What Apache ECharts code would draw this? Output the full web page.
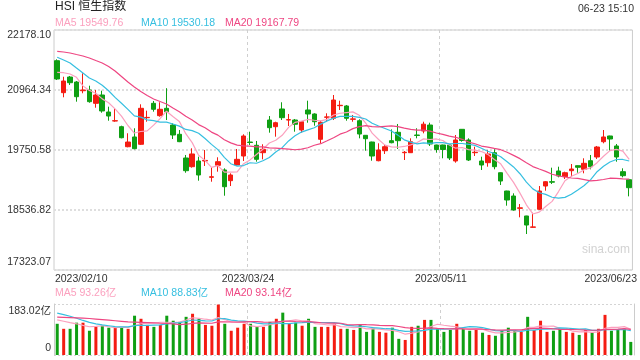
<!DOCTYPE html>
<html><head><meta charset="utf-8">
<script src="https://cdn.jsdelivr.net/npm/echarts@6/dist/echarts.min.js"></script>
<style>html,body{margin:0;padding:0;background:#fff}#c{width:640px;height:360px}</style>
</head><body><div id="c"></div>
<script>
const dates = ['2023/02/10','2023/02/13','2023/02/14','2023/02/15','2023/02/16','2023/02/17','2023/02/20','2023/02/21','2023/02/22','2023/02/23','2023/02/24','2023/02/27','2023/02/28',
'2023/03/01','2023/03/02','2023/03/03','2023/03/06','2023/03/07','2023/03/08','2023/03/09','2023/03/10','2023/03/13','2023/03/14','2023/03/15','2023/03/16','2023/03/17','2023/03/20','2023/03/21','2023/03/22','2023/03/23','2023/03/24','2023/03/27','2023/03/28','2023/03/29','2023/03/30','2023/03/31',
'2023/04/03','2023/04/04','2023/04/06','2023/04/11','2023/04/12','2023/04/13','2023/04/14','2023/04/17','2023/04/18','2023/04/19','2023/04/20','2023/04/21','2023/04/24','2023/04/25','2023/04/26','2023/04/27','2023/04/28',
'2023/05/02','2023/05/03','2023/05/04','2023/05/05','2023/05/08','2023/05/09','2023/05/10','2023/05/11','2023/05/12','2023/05/15','2023/05/16','2023/05/17','2023/05/18','2023/05/19','2023/05/22','2023/05/23','2023/05/24','2023/05/25','2023/05/29','2023/05/30','2023/05/31',
'2023/06/01','2023/06/02','2023/06/05','2023/06/06','2023/06/07','2023/06/08','2023/06/09','2023/06/12','2023/06/13','2023/06/14','2023/06/15','2023/06/16','2023/06/19','2023/06/20','2023/06/21','2023/06/23'];

const opens = [21557,20910,21227,21126,20950,20964,20695,20863,20519,20337,
20222,19817,20014,19866,20404,20695,20445,20594,20256,20068,
19589,19413,19528,19528,19198,19441,19346,19130,19447,19629,
19912,19846,19696,20357,20222,20580,20357,20357,20155,20560,
20479,19967,20412,20392,20647,20641,20372,20343,20048,19912,
19534,19736,19939,20109,19696,19696,20054,20135,20256,19852,
19852,19852,19528,20169,19953,19696,19528,19494,19696,19291,
18921,18820,18571,18416,18187,18551,19022,19109,19326,19211,
19332,19433,19360,19534,19609,19918,20034,19832,19312,19150];
const closes = [21187,21146,21112,20829,20965,20728,20863,20540,20438,20343,
19999,19912,19777,20594,20410,20574,20574,20525,20054,19919,
19332,19670,19245,19540,19210,19514,19008,19245,19562,20034,
19902,19562,19765,20202,20303,20404,20365,20271,20323,20479,
20323,20311,20420,20762,20655,20392,20380,20074,19979,19629,
19751,19817,19898,19939,19705,19918,20045,20273,19872,19761,
19761,19589,19953,19943,19548,19705,19447,19670,19413,19123,
18739,18537,18580,18233,18195,18921,19109,19100,19225,19291,
19366,19401,19481,19413,19811,20014,19973,19609,19231,18988];
const lows = [21167,20817,21066,20728,20898,20707,20606,20505,20343,20323,
19987,19805,19765,19852,20323,20526,20424,20357,19973,19910,
19291,19393,19130,19427,19109,19312,18826,19022,19433,19528,
19852,19514,19562,20101,20020,20357,20236,20121,20101,20303,
20242,19886,20323,20357,20560,20343,20323,19987,19736,19534,
19522,19670,19886,19771,19548,19690,19987,20088,19832,19696,
19583,19548,19494,19919,19528,19629,19346,19413,19360,19042,
18624,18523,18389,18051,18180,18537,18927,19063,19198,19164,
19211,19291,19279,19360,19569,19886,19736,19514,19198,18813];
const highs = [21585,21233,21248,21146,21302,21051,20964,20950,20627,20594,
20242,20089,20190,20675,20546,20742,20716,21001,20291,20155,
19650,19785,19615,19751,19401,19603,19380,19279,19771,20068,
20121,19933,19866,20438,20323,20716,20479,20378,20337,20748,
20493,20343,20493,20863,20748,20661,20459,20372,20054,19919,
19886,19852,20169,20277,19730,19987,20190,20323,20303,19858,
19858,19858,20054,20175,19987,19817,19615,19751,19765,19296,
18926,18874,18658,18420,18482,19022,19123,19393,19413,19312,
19467,19438,19583,19650,19832,20155,20040,19872,19380,19155];
const volumes = [112,94,94,116,116,87,101,105,98,98,
98,94,141,130,108,101,108,141,123,119,
137,148,130,108,105,181,112,87,98,112,
112,101,101,119,130,152,112,116,105,130,
101,101,101,112,94,94,90,108,83,98,
83,80,98,58,54,101,105,126,126,94,
83,90,112,94,87,90,80,72,69,87,
98,90,83,137,90,123,83,87,94,83,
80,72,90,80,94,144,87,90,94,47];

// MA values visible at the left edge (their windows start before the first shown day)
const ma5Head = [21322,21314,21288,21221];
const ma10Head = [21626,21571,21511,21409,21308,21207,21146,21060,20950];
const ma20Head = [21747,21733,21713,21682,21652,21612,21561,21511,21440,21349,21237,21126,21025,20934,20853,20782,20732,20681,20600];
const volMa5Head = [126,121,116,112];
const volMa10Head = [150,145,139,132,124,117,112,108,105];
const volMa20Head = [136,135,134,133,132,131,129,127,125,123,121,119,118,117,116,115,114,113,112];

const priceTicks = ['17323.07','18536.82','19750.58','20964.34','22178.10'];
const volTicks = ['0','183.02亿'];
const xTickIdx = [0,30,60,89];
const priceLegend = ['MA5 19549.76','MA10 19530.18','MA20 19167.79'];
const volLegend = ['MA5 93.26亿','MA10 88.83亿','MA20 93.14亿'];
const titleText = 'HSI 恒生指数';
const timeText = '06-23 15:10';
const watermark = 'sina.com';

const RED = '#f41c12', GREEN = '#0f9f13';
const C5 = '#fba0be', C10 = '#36bfe0', C20 = '#ee4682';
const FONT = '"Liberation Sans", Arial, "Noto Sans CJK SC", sans-serif';

function ma(arr, n, head) {
  return arr.map((v, i) => {
    if (i < n - 1) return head[i];
    let s = 0; for (let k = i - n + 1; k <= i; k++) s += arr[k];
    return +(s / n).toFixed(2);
  });
}

const yMin = +priceTicks[0], yMax = +priceTicks[priceTicks.length - 1];
const yInt = (yMax - yMin) / (priceTicks.length - 1);
const vMax = parseFloat(volTicks[1]);

const chart = echarts.init(document.getElementById('c'), null, {renderer: 'canvas'});
const splitX = {show: true, interval: (i) => i === xTickIdx[1] || i === xTickIdx[2], lineStyle: {color: '#cfcfcf', type: [3, 3], width: 1}};

chart.setOption({
  animation: false,
  backgroundColor: '#fff',
  textStyle: {fontFamily: FONT},
  grid: [
    {left: 54, right: 6, top: 30, height: 240, show: true, borderColor: '#cccccc', borderWidth: 1},
    {left: 54, right: 6, top: 304, height: 51, show: false}
  ],
  xAxis: [
    {type: 'category', gridIndex: 0, data: dates, boundaryGap: true,
     axisLine: {show: false}, axisTick: {show: false},
     axisLabel: {
       interval: (i) => xTickIdx.includes(i), color: '#333', fontSize: 10.5, margin: 4, fontFamily: FONT,
       formatter: (v, i) => {
         if (i === xTickIdx[0]) return '{f|' + v + '}';
         if (i === xTickIdx[3]) return '{l|' + v + '}';
         return '{m|' + v + '}';
       },
       rich: {
         f: {padding: [0, 0, 0, 48], fontSize: 10.5, color: '#333', fontFamily: FONT},
         l: {padding: [0, 37, 0, 0], fontSize: 10.5, color: '#333', fontFamily: FONT},
         m: {padding: [0, 4, 0, 0], fontSize: 10.5, color: '#333', fontFamily: FONT}
       }
     },
     splitLine: splitX},
    {type: 'category', gridIndex: 1, data: dates, boundaryGap: true,
     axisLine: {show: false}, axisTick: {show: false}, axisLabel: {show: false},
     splitLine: splitX}
  ],
  yAxis: [
    {type: 'value', gridIndex: 0, min: yMin, max: yMax, interval: yInt, scale: true,
     axisLine: {show: false}, axisTick: {show: false},
     axisLabel: {
       color: '#333', fontSize: 10.5, margin: 3, fontFamily: FONT,
       formatter: (v) => {
         const k = Math.round((v - yMin) / yInt);
         if (k === priceTicks.length - 1) return '{t|' + priceTicks[k] + '}';
         if (k === 0) return '{b|' + priceTicks[k] + '}';
         return priceTicks[k];
       },
       rich: {
         t: {padding: [10, 0, 0, 0], fontSize: 10.5, color: '#333', fontFamily: FONT},
         b: {padding: [0, 0, 15, 0], fontSize: 10.5, color: '#333', fontFamily: FONT}
       }
     },
     splitLine: {show: true, lineStyle: {color: '#dedede', type: [2, 2], width: 2}}},
    {type: 'value', gridIndex: 1, min: 0, max: vMax, interval: vMax,
     axisLine: {show: true, lineStyle: {color: '#cccccc'}}, axisTick: {show: false},
     axisLabel: {
       color: '#333', fontSize: 10.5, margin: 3, fontFamily: FONT,
       formatter: (v) => v > 0 ? '{t|' + volTicks[1] + '}' : '{b|' + volTicks[0] + '}',
       rich: {
         t: {padding: [14, 0, 0, 0], fontSize: 10.5, color: '#333', fontFamily: FONT},
         b: {padding: [0, 0, 13, 0], fontSize: 10.5, color: '#333', fontFamily: FONT}
       }
     },
     splitLine: {show: true, lineStyle: {color: '#d4d4d4', type: [2, 2], width: 1}}},
    {type: 'value', gridIndex: 1, min: 0, max: vMax, position: 'right',
     axisLine: {show: true, lineStyle: {color: '#cccccc'}}, axisTick: {show: false},
     axisLabel: {show: false}, splitLine: {show: false}}
  ],
  series: [
    {type: 'candlestick', xAxisIndex: 0, yAxisIndex: 0, barWidth: 5,
     data: opens.map((o, i) => [o, closes[i], lows[i], highs[i]]),
     itemStyle: {color: RED, color0: GREEN, borderColor: RED, borderColor0: GREEN, borderWidth: 1}},
    {type: 'line', name: 'MA5', xAxisIndex: 0, yAxisIndex: 0, data: ma(closes, 5, ma5Head), symbol: 'none', lineStyle: {color: C5, width: 1.2}},
    {type: 'line', name: 'MA10', xAxisIndex: 0, yAxisIndex: 0, data: ma(closes, 10, ma10Head), symbol: 'none', lineStyle: {color: C10, width: 1.2}},
    {type: 'line', name: 'MA20', xAxisIndex: 0, yAxisIndex: 0, data: ma(closes, 20, ma20Head), symbol: 'none', lineStyle: {color: C20, width: 1.2}},
    {type: 'bar', xAxisIndex: 1, yAxisIndex: 1, barWidth: 3, data: volumes,
     itemStyle: {color: (p) => closes[p.dataIndex] >= opens[p.dataIndex] ? RED : GREEN}},
    {type: 'line', xAxisIndex: 1, yAxisIndex: 1, data: ma(volumes, 5, volMa5Head), symbol: 'none', lineStyle: {color: C5, width: 1.2}},
    {type: 'line', xAxisIndex: 1, yAxisIndex: 1, data: ma(volumes, 10, volMa10Head), symbol: 'none', lineStyle: {color: C10, width: 1.2}},
    {type: 'line', xAxisIndex: 1, yAxisIndex: 1, data: ma(volumes, 20, volMa20Head), symbol: 'none', lineStyle: {color: C20, width: 1.2}}
  ],
  graphic: [
    {type: 'text', left: 55, top: 1, style: {text: titleText, fill: '#222', font: '12px ' + FONT}},
    {type: 'text', right: 6, top: 4, style: {text: timeText, fill: '#333', font: '10.5px ' + FONT}},
    {type: 'text', left: 55, top: 18, style: {text: priceLegend[0], fill: C5, font: '10.5px ' + FONT}},
    {type: 'text', left: 141, top: 18, style: {text: priceLegend[1], fill: C10, font: '10.5px ' + FONT}},
    {type: 'text', left: 225, top: 18, style: {text: priceLegend[2], fill: C20, font: '10.5px ' + FONT}},
    {type: 'text', left: 55, top: 288, style: {text: volLegend[0], fill: C5, font: '10.5px ' + FONT}},
    {type: 'text', left: 141, top: 288, style: {text: volLegend[1], fill: C10, font: '10.5px ' + FONT}},
    {type: 'text', left: 225, top: 288, style: {text: volLegend[2], fill: C20, font: '10.5px ' + FONT}},
    {type: 'text', left: 582, top: 244, style: {text: watermark, fill: '#d2d2d2', font: '12px ' + FONT}}
  ]
});
</script></body></html>
